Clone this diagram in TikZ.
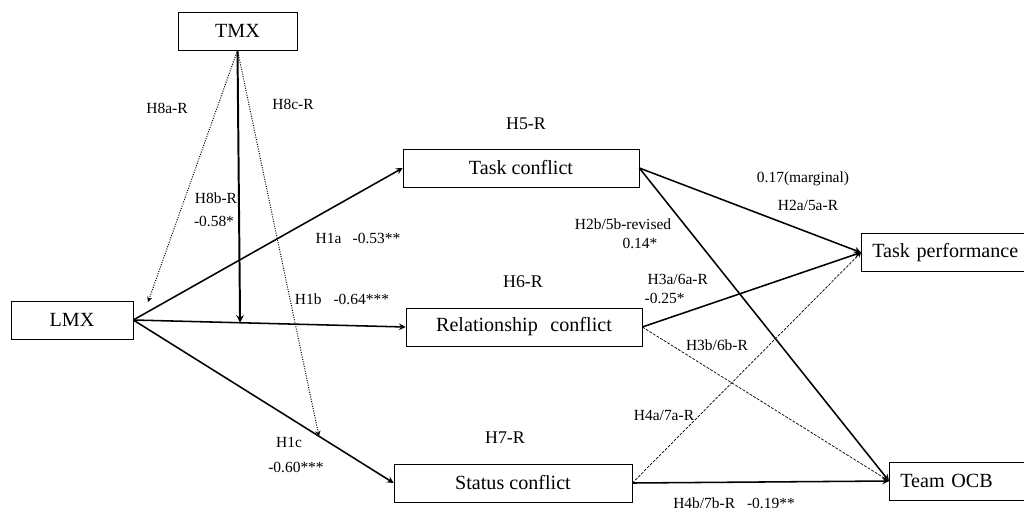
\documentclass[tikz,border=0pt]{standalone}
\usepackage{fontspec}
\setmainfont{Liberation Serif}
\usetikzlibrary{calc}

\begin{document}
\begin{tikzpicture}[x=0.025cm,y=-0.025cm,
  box/.style={draw, rectangle, minimum height=0.95cm, font=\fontsize{14.3}{16}\selectfont},
  lab/.style={font=\fontsize{11}{13}\selectfont, inner sep=1pt},
  hyp/.style={font=\fontsize{12.7}{14}\selectfont, inner sep=1pt},
  link/.style={->,>=stealth,line width=1.1pt},
  dotlink/.style={->,>=stealth,line width=0.7pt,densely dotted},
  dashlink/.style={->,>=stealth,line width=0.5pt,dash pattern=on 2pt off 1pt}]
\useasboundingbox (0,0) rectangle (1024,507);

% constructs
\node[box, minimum width=2.975cm] (tmx) at (237.5,31) {TMX};
\node[box, minimum width=3.05cm] (lmx) at (72,320) {LMX};
\node[box, minimum width=5.9cm] (task) at (521,168) {Task conflict};
\node[box, minimum width=5.9cm] (rel) at (524,327) {Relationship\hspace{9pt}conflict};
\node[box, minimum width=5.95cm] (stat) at (513,483) {Status conflict};
\node[box, anchor=west, text width=4.3cm, align=left, inner xsep=0.275cm] (perf) at (861,252.5) {Task performance};
\node[box, anchor=west, text width=3.6cm, align=left, inner xsep=0.275cm] (ocb) at (889,481) {Team OCB};

% LMX paths
\draw[link] (lmx.east) -- (task.west);
\draw[link] (lmx.east) -- (rel.west);
\draw[link] (lmx.east) -- (stat.west);

% TMX moderation
\coordinate (lmxin) at (148,302);
\coordinate (relmod) at ($(lmx.east)!0.392!(rel.west)$);
\coordinate (statmod) at ($(lmx.east)!0.713!(stat.west)$);
\draw[dotlink] (tmx.south) -- (lmxin);
\draw[link, line width=1.4pt] (tmx.south) -- (relmod);
\draw[dotlink] (tmx.south) -- (statmod);

% outcomes
\draw[link] (task.east) -- (perf.west);
\draw[link] (task.east) -- (ocb.west);
\draw[link] (rel.east) -- (perf.west);
\draw[dashlink] (rel.east) -- (ocb.west);
\draw[dashlink] (stat.east) -- (perf.west);
\draw[link] (stat.east) -- (ocb.west);

% labels
\node[lab] (h8a) at (167,108) {H8a-R};
\node[lab] (h8c) at (293,104) {H8c-R};
\node[lab] (h8b) at (216,198) {H8b-R};
\node[lab] (h8bv) at (214,221) {-0.58*};
\node[lab] (h1a) at (358,238) {H1a\hspace{8pt}-0.53**};
\node[lab] (h1b) at (342,299) {H1b\hspace{8.5pt}-0.64***};
\node[lab] (h1c) at (289,442) {H1c};
\node[lab] (h1cv) at (296,467) {-0.60***};
\node[hyp] (h5) at (526,124) {H5-R};
\node[hyp] (h6) at (523,282) {H6-R};
\node[hyp] (h7) at (505,438) {H7-R};
\node[lab] (h2b) at (623,224) {H2b/5b-revised};
\node[lab] (h2bv) at (640,243) {0.14*};
\node[lab] (h2av) at (803,179) {0.17(marginal)};
\node[lab] (h2a) at (808,205) {H2a/5a-R};
\node[lab, anchor=west] (h3a) at (646,279) {H3a/6a-R};
\node[lab, anchor=west] (h3av) at (643,298) {-0.25*};
\node[lab] (h3b) at (717,345) {H3b/6b-R};
\node[lab] (h4a) at (664,415) {H4a/7a-R};
\node[lab] (h4b) at (734,503) {H4b/7b-R\hspace{8.5pt}-0.19**};
\end{tikzpicture}
\end{document}
